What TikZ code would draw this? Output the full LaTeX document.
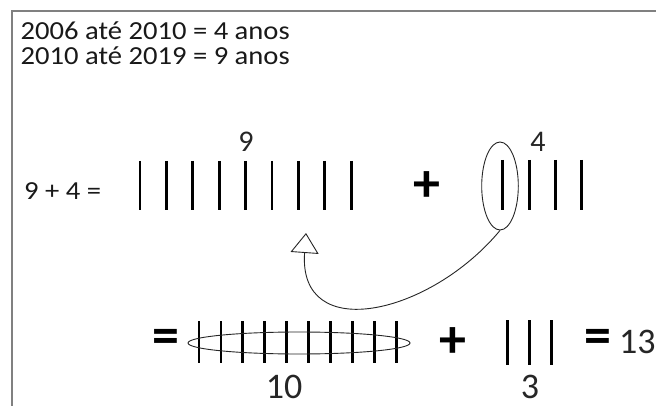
\documentclass[tikz,border=0pt]{standalone}
\usepackage{fontspec}
\setmainfont{Carlito}
\newfontfamily\widefont[FakeStretch=1.1]{Carlito}
\usetikzlibrary{arrows.meta,shapes.geometric}
\begin{document}
\begin{tikzpicture}[x=1pt,y=-1pt,
  bar/.style={line width=2.8pt, black},
  small/.style={inner sep=0, anchor=base west, text=black!90, font=\widefont\fontsize{26}{30}\selectfont},
  big/.style={inner sep=0, anchor=base, text=black!85, font=\fontsize{30}{34}\selectfont},
  bigger/.style={inner sep=0, anchor=base, text depth=0pt, text=black!85, font=\fontsize{36}{40}\selectfont},
  op/.style={inner sep=0, font=\bfseries\fontsize{54}{58}\selectfont},
  loop/.style={draw, ellipse, line width=0.9pt, inner sep=0, black!85},
  link/.style={line width=0.9pt, black!85, -{Triangle[open,length=20pt,width=28pt]}}
]
\useasboundingbox (0,0) rectangle (656,406);
\fill[white] (0,0) rectangle (656,406);
\draw[line width=2pt, gray] (12,406) -- (12,11.5) -- (656,11.5);
% header
\node[small] (l1) at (20.5,39.5) {2006 até 2010 = 4 anos};
\node[small] (l2) at (20.5,65) {2010 até 2019 = 9 anos};
\node[small] (eq) at (24,200) {9 + 4 =};
% top row
\foreach \i in {0,...,8} \draw[bar] (140+26.4*\i,161) -- (140+26.4*\i,210);
\node[big] (n9) at (246,152) {9};
\node[op] (p1) at (427,187) {+};
\node[loop, minimum width=36.6, minimum height=88] (sel) at (500,186) {};
\foreach \x in {502.7,529.3,555.5,581.7} \draw[bar] (\x,160) -- (\x,210);
\node[big] (n4) at (538,152) {4};
\coordinate (tip) at (306,233);
\draw[link] (sel.south) .. controls (430,315) and (298,345) .. (tip);
% bottom row
\node[op] (e1) at (165.5,341.5) {=};
\foreach \i in {0,...,9} \draw[bar] (199+21.9*\i,321) -- (199+21.9*\i,363);
\node[loop, minimum width=222, minimum height=22] (grp) at (299,343) {};
\node[bigger] (n10) at (284,398) {10};
\node[op] (p2) at (452.5,343) {+};
\foreach \x in {507.3,529.3,551.7} \draw[bar] (\x,320) -- (\x,365);
\node[bigger] (n3) at (530,398) {3};
\node[op] (e2) at (597.5,341) {=};
\node[bigger, anchor=base west] (n13) at (619,353) {13};
\end{tikzpicture}
\end{document}
